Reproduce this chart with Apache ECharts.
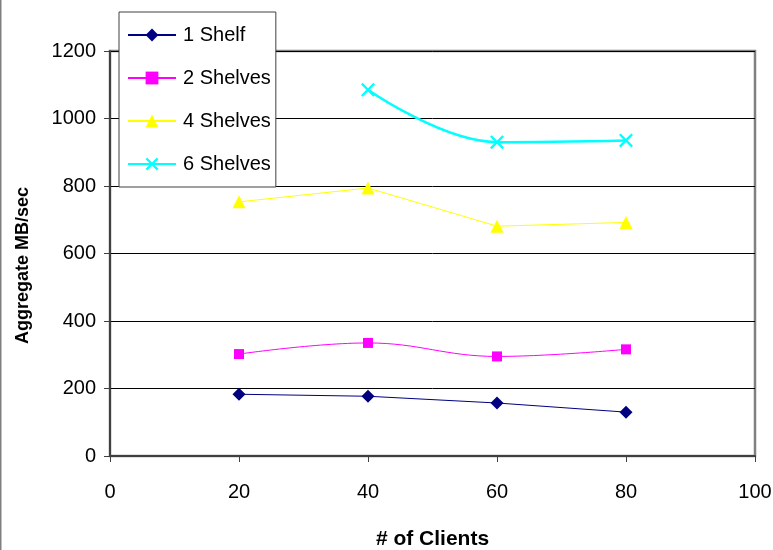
<!DOCTYPE html>
<html><head><meta charset="utf-8">
<script src="https://cdn.jsdelivr.net/npm/echarts@6/dist/echarts.min.js"></script>
<style>html,body{margin:0;padding:0;background:#fff}#c{width:773px;height:550px}</style>
</head><body><div id="c"></div>
<script>
var clients = [20, 40, 60, 80];
var shelf1 = [183, 177, 157, 130];
var shelves2 = [302, 335, 295, 316];
var shelves4 = [753, 794, 681, 692];
var shelves6 = [null, 1085, 930, 935];
var seriesNames = ['1 Shelf', '2 Shelves', '4 Shelves', '6 Shelves'];
var xTicks = [0, 20, 40, 60, 80, 100];
var yTicks = [0, 200, 400, 600, 800, 1000, 1200];

function pairs(v){ var out=[]; for(var i=0;i<clients.length;i++){ if(v[i]!=null) out.push([clients[i], v[i]]); } return out; }
var FONT = '"Liberation Sans", Arial, sans-serif';
var crossPath = 'path://M0,1.2 L1.2,0 L5,3.8 L8.8,0 L10,1.2 L6.2,5 L10,8.8 L8.8,10 L5,6.2 L1.2,10 L0,8.8 L3.8,5 Z';

var chart = echarts.init(document.getElementById('c'), null, {renderer:'canvas'});
chart.setOption({
  animation:false,
  backgroundColor:'#fff',
  grid:{left:110, right:18, top:51, bottom:94, containLabel:false, outerBoundsMode:'none', show:true, borderColor:'#808080', borderWidth:2.5, backgroundColor:'transparent'},
  graphic:[{type:'line', shape:{x1:0.5,y1:0,x2:0.5,y2:550}, style:{stroke:'#808080', lineWidth:2}}],
  legend:{
    orient:'vertical', left:119, top:12,
    data:seriesNames,
    itemWidth:48, itemHeight:16, itemGap:23,
    padding:[13,5,13,8],
    backgroundColor:'#fff', borderColor:'#404040', borderWidth:1,
    textStyle:{fontFamily:FONT, fontSize:20, color:'#000', padding:[0,0,0,2]}
  },
  xAxis:{
    type:'value', min:0, max:100, interval:20,
    name:'# of Clients', nameLocation:'middle', nameGap:73,
    nameTextStyle:{fontFamily:FONT, fontSize:21, fontWeight:'bold', color:'#000'},
    axisLine:{show:true, lineStyle:{color:'#404040', width:2}},
    axisTick:{show:true, inside:false, length:6, lineStyle:{color:'#404040'}},
    axisLabel:{fontFamily:FONT, fontSize:20, color:'#000', margin:26, formatter:function(v){return xTicks.indexOf(v)>=0?String(v):'';}},
    splitLine:{show:false}
  },
  yAxis:{
    type:'value', min:0, max:1200, interval:200,
    name:'Aggregate MB/sec', nameLocation:'middle', nameGap:78, nameRotate:90,
    nameTextStyle:{fontFamily:FONT, fontSize:18, fontWeight:'bold', color:'#000', padding:[0,24,0,0]},
    axisLine:{show:true, lineStyle:{color:'#404040', width:2}},
    axisTick:{show:true, inside:false, length:6, lineStyle:{color:'#404040'}},
    axisLabel:{fontFamily:FONT, fontSize:20, color:'#000', margin:14, formatter:function(v){return yTicks.indexOf(v)>=0?String(v):'';}},
    splitLine:{show:true, lineStyle:{color:'#000', width:1}}
  },
  series:[
    {name:seriesNames[0], type:'line', data:pairs(shelf1), symbol:'diamond', symbolSize:13,
      lineStyle:{color:'#000080', width:1}, itemStyle:{color:'#000080'}},
    {name:seriesNames[1], type:'line', data:pairs(shelves2), symbol:'rect', symbolSize:10, smooth:0.4,
      lineStyle:{color:'#FF00FF', width:1}, itemStyle:{color:'#FF00FF'}},
    {name:seriesNames[2], type:'line', data:pairs(shelves4), symbol:'triangle', symbolSize:13,
      lineStyle:{color:'#FFFF00', width:1}, itemStyle:{color:'#FFFF00'}},
    {name:seriesNames[3], type:'line', data:pairs(shelves6), symbol:crossPath, symbolSize:14, smooth:0.4,
      lineStyle:{color:'#00FFFF', width:2.5}, itemStyle:{color:'#00FFFF'}}
  ]
});
</script></body></html>
